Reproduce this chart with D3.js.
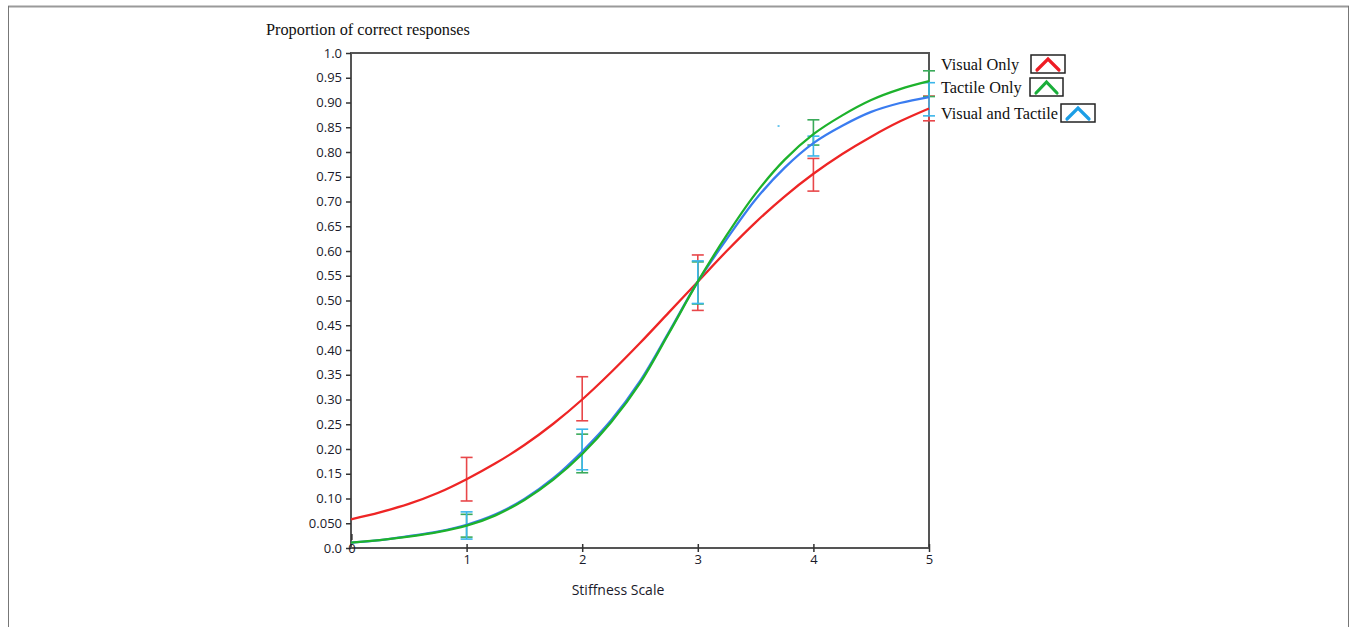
<!DOCTYPE html>
<html>
<head>
<meta charset="utf-8">
<script src="https://cdn.jsdelivr.net/npm/d3@7"></script>
<style>
  body { margin: 0; background: #fff; }
  svg { display: block; }
</style>
</head>
<body>
<svg id="chart" width="1356" height="627"></svg>
<script>
// stiffness levels sampled along the fitted curves
const xs = [0, 0.25, 0.5, 0.75, 1, 1.25, 1.5, 1.75, 2, 2.25, 2.5, 2.75, 3, 3.25, 3.5, 3.75, 4, 4.25, 4.5, 4.75, 5];
const visualCurve = [0.058, 0.072, 0.089, 0.111, 0.139, 0.171, 0.208, 0.251, 0.300, 0.355, 0.414, 0.476, 0.538, 0.600, 0.658, 0.710, 0.756, 0.796, 0.831, 0.862, 0.888];
const tactileCurve = [0.011, 0.016, 0.023, 0.032, 0.045, 0.066, 0.097, 0.138, 0.190, 0.254, 0.333, 0.434, 0.538, 0.632, 0.716, 0.784, 0.836, 0.874, 0.905, 0.927, 0.943];
const bothCurve = [0.011, 0.016, 0.024, 0.033, 0.047, 0.068, 0.099, 0.141, 0.195, 0.258, 0.337, 0.436, 0.538, 0.624, 0.704, 0.768, 0.818, 0.853, 0.881, 0.899, 0.911];

// error bars at measured stiffness levels
const levels = [1, 2, 3, 4, 5];
const visualLow = [0.095, 0.257, 0.480, 0.721, 0.863];
const visualHigh = [0.183, 0.346, 0.592, 0.787, 0.913];
const tactileLow = [0.022, 0.152, 0.493, 0.814, 0.912];
const tactileHigh = [0.068, 0.230, 0.578, 0.865, 0.964];
const bothLow = [0.018, 0.158, 0.494, 0.792, 0.873];
const bothHigh = [0.073, 0.240, 0.580, 0.832, 0.940];

const yTicks = [0, 0.05, 0.1, 0.15, 0.2, 0.25, 0.3, 0.35, 0.4, 0.45, 0.5, 0.55, 0.6, 0.65, 0.7, 0.75, 0.8, 0.85, 0.9, 0.95, 1.0];
const xTicks = [1, 2, 3, 4, 5];
const legendNames = ['Visual Only', 'Tactile Only', 'Visual and Tactile'];

const series = [
  { name: legendNames[0], curve: visualCurve, low: visualLow, high: visualHigh, line: '#ee2525', bar: '#e8474a', icon: '#ee1c24' },
  { name: legendNames[1], curve: tactileCurve, low: tactileLow, high: tactileHigh, line: '#1db22c', bar: '#3aaa5a', icon: '#1aae3a' },
  { name: legendNames[2], curve: bothCurve, low: bothLow, high: bothHigh, line: '#3a7cf0', bar: '#3bb6ea', icon: '#1c9ee6' }
];

const svg = d3.select('#chart');
const sans = '"Open Sans", sans-serif';
const serif = '"Liberation Serif", "Times New Roman", serif';

// outer frame
svg.append('line').attr('x1', 8).attr('x2', 1349).attr('y1', 6.5).attr('y2', 6.5)
  .attr('stroke', '#9a9a9a').attr('stroke-width', 2);
svg.append('line').attr('x1', 8.5).attr('x2', 8.5).attr('y1', 6).attr('y2', 627)
  .attr('stroke', '#777').attr('stroke-width', 1);
svg.append('line').attr('x1', 1348.5).attr('x2', 1348.5).attr('y1', 6).attr('y2', 627)
  .attr('stroke', '#777').attr('stroke-width', 1);

const plotLeft = 351, plotRight = 929, plotTop = 53, plotBottom = 548;
const x = d3.scaleLinear().domain([0, 5]).range([plotLeft, plotRight]);
const y = d3.scaleLinear().domain([0, 1]).range([plotBottom, plotTop]);

// plot box
svg.append('rect')
  .attr('x', plotLeft).attr('y', plotTop)
  .attr('width', plotRight - plotLeft).attr('height', plotBottom - plotTop)
  .attr('fill', 'none').attr('stroke', '#555').attr('stroke-width', 2);

const fmtY = function(d) {
  if (d === 0) return '0.0';
  if (d === 0.05) return '0.050';
  if (d === 1) return '1.0';
  return d.toFixed(2);
};

const yAxis = svg.append('g')
  .attr('transform', 'translate(' + plotLeft + ',0)')
  .call(d3.axisLeft(y).tickValues(yTicks).tickFormat(fmtY).tickSize(5).tickPadding(4));
yAxis.select('.domain').remove();
yAxis.selectAll('line').attr('stroke', '#333').attr('stroke-width', 1.5);
yAxis.selectAll('text')
  .attr('font-family', sans).attr('font-size', 13).attr('fill', '#1a1a2a');

const xAxis = svg.append('g')
  .attr('transform', 'translate(0,' + plotBottom + ')')
  .call(d3.axisBottom(x).tickValues(xTicks).tickFormat(d3.format('d')).tickSize(4).tickPadding(3));
xAxis.select('.domain').remove();
xAxis.selectAll('line').attr('stroke', '#333').attr('stroke-width', 1.5).attr('y1', -4);
xAxis.selectAll('text')
  .attr('font-family', sans).attr('font-size', 13).attr('fill', '#1a1a2a');

// the stray "0" drawn at the origin
svg.append('text')
  .attr('x', x(0) + 1).attr('y', y(0) + 4.5)
  .attr('text-anchor', 'middle')
  .attr('font-family', sans).attr('font-size', 13).attr('fill', '#1a1a2a')
  .text('0');
svg.append('line').attr('x1', x(0) + 1).attr('x2', x(0) + 1).attr('y1', y(0) - 14).attr('y2', y(0) - 8)
  .attr('stroke', '#222').attr('stroke-width', 1.2);

// titles
svg.append('text')
  .attr('x', 266).attr('y', 35)
  .attr('font-family', serif).attr('font-size', 16.3).attr('fill', '#111')
  .text('Proportion of correct responses');
svg.append('text')
  .attr('x', 618).attr('y', 595)
  .attr('text-anchor', 'middle')
  .attr('font-family', sans).attr('font-size', 14).attr('fill', '#1a1a2a')
  .text('Stiffness Scale');

// error bars
const cap = 6;
series.forEach(function(s) {
  const g = svg.append('g').attr('stroke', s.bar).attr('stroke-width', 1.6).attr('fill', 'none');
  levels.forEach(function(lv, i) {
    g.append('line').attr('x1', x(lv)).attr('x2', x(lv)).attr('y1', y(s.low[i])).attr('y2', y(s.high[i]));
    g.append('line').attr('x1', x(lv) - cap).attr('x2', x(lv) + cap).attr('y1', y(s.low[i])).attr('y2', y(s.low[i]));
    g.append('line').attr('x1', x(lv) - cap).attr('x2', x(lv) + cap).attr('y1', y(s.high[i])).attr('y2', y(s.high[i]));
  });
});

// curves
const line = d3.line()
  .x(function(d) { return x(d[0]); })
  .y(function(d) { return y(d[1]); })
  .curve(d3.curveCatmullRom.alpha(0.5));

[series[0], series[2], series[1]].forEach(function(s) {
  svg.append('path')
    .datum(xs.map(function(v, i) { return [v, s.curve[i]]; }))
    .attr('d', line)
    .attr('fill', 'none')
    .attr('stroke', s.line)
    .attr('stroke-width', 2.3);
});

// stray point
svg.append('rect').attr('x', x(3.69)).attr('y', y(0.854)).attr('width', 2).attr('height', 1.5).attr('fill', '#3bb6ea');

// legend
const legendRows = [
  { tx: 941, ty: 70, bx: 1031, by: 55, bw: 34 },
  { tx: 941, ty: 93, bx: 1030, by: 78, bw: 33 },
  { tx: 941, ty: 119, bx: 1061, by: 104, bw: 34 }
];
series.forEach(function(s, i) {
  const r = legendRows[i];
  svg.append('text')
    .attr('x', r.tx).attr('y', r.ty)
    .attr('font-family', serif).attr('font-size', 16.3).attr('fill', '#111')
    .text(s.name);
  svg.append('rect')
    .attr('x', r.bx).attr('y', r.by).attr('width', r.bw).attr('height', 18)
    .attr('fill', 'none').attr('stroke', '#222').attr('stroke-width', 1.5);
  svg.append('path')
    .attr('d', 'M' + (r.bx + 6) + ',' + (r.by + 15) + 'L' + (r.bx + r.bw / 2) + ',' + (r.by + 4) + 'L' + (r.bx + r.bw - 6) + ',' + (r.by + 15))
    .attr('fill', 'none').attr('stroke', s.icon).attr('stroke-width', 3.2).attr('stroke-linecap', 'round');
});
</script>
</body>
</html>
